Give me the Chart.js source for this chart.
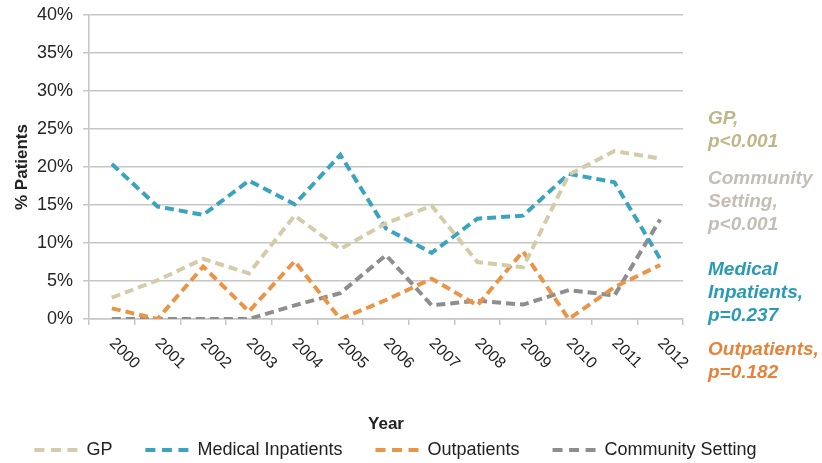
<!DOCTYPE html>
<html>
<head>
<meta charset="utf-8">
<script src="https://cdn.jsdelivr.net/npm/chart.js@4.4.1/dist/chart.umd.min.js"></script>
<style>
  body { margin: 0; background: #fff; }
  .chart-box { width: 822px; height: 463px; }
</style>
</head>
<body>
<div class="chart-box"><canvas id="trendChart"></canvas></div>
<script>
// Data (% of patients per year)
const years = ['2000', '2001', '2002', '2003', '2004', '2005', '2006', '2007', '2008', '2009', '2010', '2011', '2012'];
const gpValues = [2.8, 5.1, 7.9, 6.0, 13.6, 9.2, 12.6, 14.9, 7.5, 6.8, 19.0, 22.1, 21.1];
const inpatientValues = [20.4, 14.8, 13.7, 18.2, 15.1, 21.6, 11.9, 8.7, 13.2, 13.6, 19.1, 18.0, 7.9];
const outpatientValues = [1.4, 0, 6.9, 1.0, 7.6, 0, 2.5, 5.3, 1.8, 8.9, 0, 4.2, 7.1];
const communityValues = [0, 0, 0, 0, 1.8, 3.4, 8.4, 1.8, 2.4, 1.9, 3.8, 3.1, 13.1];
const yMax = 40;
const yStep = 5;

// p-value notes on the right
const notes = [
    { lines: ['GP,', 'p<0.001'], color: '#c0b788', y: 124 },
    { lines: ['Community', 'Setting,', 'p<0.001'], color: '#c4beb4', y: 184 },
    { lines: ['Medical', 'Inpatients,', 'p=0.237'], color: '#2b9ab6', y: 275 },
    { lines: ['Outpatients,', 'p=0.182'], color: '#e5833b', y: 355 }
];

Chart.defaults.font.family = "'Liberation Sans', Arial, sans-serif";
Chart.defaults.color = '#262626';

const gridColor = '#c6c6c6';

function series(label, data, color) {
    return {
        label: label,
        data: data,
        borderColor: color,
        backgroundColor: color,
        borderWidth: 4,
        borderDash: [9, 5],
        pointRadius: 0,
        tension: 0,
        fill: false
    };
}

// rotated year labels (reading down to the right)
const yearLabels = {
    id: 'yearLabels',
    afterDraw(chart) {
        const ctx = chart.ctx;
        const x = chart.scales.x;
        ctx.save();
        ctx.font = "16px 'Liberation Sans', Arial, sans-serif";
        ctx.fillStyle = '#222';
        ctx.textAlign = 'left';
        ctx.textBaseline = 'middle';
        x.getLabels().forEach(function(lab, i) {
            ctx.save();
            ctx.translate(x.getPixelForValue(i), chart.chartArea.bottom + 22);
            ctx.rotate(Math.PI / 4);
            ctx.fillText(lab, 0, 0);
            ctx.restore();
        });
        ctx.restore();
    }
};

const sideNotes = {
    id: 'sideNotes',
    afterDraw(chart) {
        const ctx = chart.ctx;
        const left = chart.chartArea.right + 25;
        ctx.save();
        ctx.font = "italic bold 19px 'Liberation Sans', Arial, sans-serif";
        ctx.textAlign = 'left';
        ctx.textBaseline = 'alphabetic';
        notes.forEach(function(n) {
            ctx.fillStyle = n.color;
            n.lines.forEach(function(line, k) {
                ctx.fillText(line, left, n.y + k * 23);
            });
        });
        ctx.restore();
    }
};

const ctx = document.getElementById('trendChart').getContext('2d');
const trendChart = new Chart(ctx, {
    type: 'line',
    data: {
        labels: years,
        datasets: [
            series('GP', gpValues, '#d4cca9'),
            series('Medical Inpatients', inpatientValues, '#3aa3be'),
            series('Outpatients', outpatientValues, '#ec9446'),
            series('Community Setting', communityValues, '#8e8e8e')
        ]
    },
    options: {
        responsive: true,
        maintainAspectRatio: false,
        animation: false,
        layout: { padding: { top: 15, right: 27, bottom: -6, left: -4 } },
        plugins: {
            tooltip: { enabled: false },
            legend: {
                position: 'bottom',
                labels: {
                    usePointStyle: true,
                    pointStyle: 'line',
                    pointStyleWidth: 43,
                    padding: 33,
                    color: '#222',
                    font: { size: 18 },
                    generateLabels: function(chart) {
                        const items = Chart.defaults.plugins.legend.labels.generateLabels(chart);
                        items.forEach(function(it) {
                            it.lineDash = [10, 6.5];
                            it.lineWidth = 4;
                            it.pointStyle = 'line';
                        });
                        return items;
                    }
                }
            }
        },
        scales: {
            x: {
                offset: true,
                grid: {
                    offset: true,
                    drawOnChartArea: false,
                    tickLength: 6,
                    color: gridColor,
                    lineWidth: 1.5
                },
                border: { color: gridColor, width: 1.5 },
                ticks: { display: false, autoSkip: false },
                title: {
                    display: true,
                    text: 'Year',
                    color: '#222',
                    font: { size: 17, weight: 'bold' },
                    padding: { top: 0, bottom: -26.2 }
                },
                afterFit: function(scale) { scale.height = 89; }
            },
            y: {
                min: 0,
                max: yMax,
                ticks: {
                    stepSize: yStep,
                    padding: 10,
                    font: { size: 18 },
                    color: '#262626',
                    callback: function(value) { return value + '%'; }
                },
                grid: { color: gridColor, lineWidth: 1.5, tickLength: 6 },
                border: { color: gridColor, width: 1.5 },
                title: {
                    display: true,
                    text: '% Patients',
                    color: '#222',
                    font: { size: 17, weight: 'bold' },
                    padding: { top: 16, bottom: 0 }
                },
                afterFit: function(scale) {
                    scale.width = 93;
                    scale.paddingTop = 5;
                    scale.paddingBottom = 5;
                }
            },
            side: {
                position: 'right',
                grid: { display: false },
                border: { display: false },
                ticks: { display: false },
                afterFit: function(scale) { scale.width = 112; }
            }
        }
    },
    plugins: [yearLabels, sideNotes]
});
</script>
</body>
</html>
